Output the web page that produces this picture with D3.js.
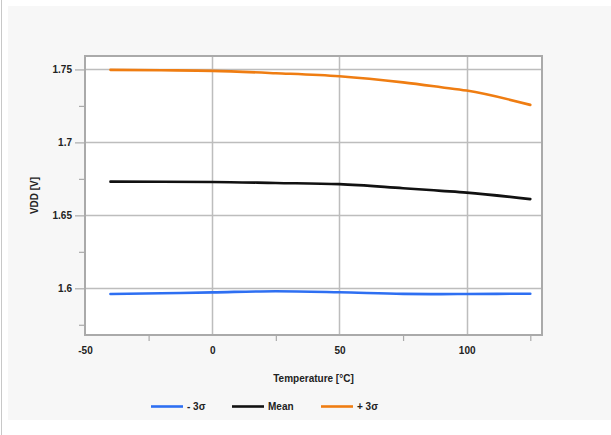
<!DOCTYPE html>
<html><head><meta charset="utf-8">
<script src="https://cdn.jsdelivr.net/npm/d3@7"></script>
<style>
html,body{margin:0;padding:0;background:#fff;}
svg{display:block;}
text{font-family:"Liberation Sans",Arial,sans-serif;font-weight:bold;fill:#222;}
</style></head>
<body>
<svg id="chart" width="611" height="435"></svg>
<script>
const temps = [-40, -20, 0, 25, 50, 75, 90, 100, 125];
const minus3s = [1.5961, 1.5966, 1.5972, 1.5980, 1.5973, 1.5962, 1.5960, 1.5961, 1.5963];
const mean    = [1.6731, 1.6730, 1.6729, 1.6722, 1.6714, 1.6686, 1.6668, 1.6656, 1.6611];
const plus3s  = [1.7497, 1.7494, 1.7490, 1.7474, 1.7453, 1.7411, 1.7378, 1.7355, 1.7257];
const seriesNames = ["- 3σ", "Mean", "+ 3σ"];
const seriesColors = ["#2e6ff2", "#111111", "#ef7d12"];
const xTicks = [-50, 0, 50, 100];
const xTickLabels = ["-50", "0", "50", "100"];
const xMinor = [-25, 25, 75, 125];
const yTicks = [1.6, 1.65, 1.7, 1.75];
const yTickLabels = ["1.6", "1.65", "1.7", "1.75"];
const yMinor = [1.575, 1.625, 1.675, 1.725];

const svg = d3.select("#chart");
// background panel
svg.append("rect").attr("x", 8).attr("y", 6).attr("width", 603).attr("height", 414).attr("fill", "#f7f7f7");
svg.append("line").attr("x1", 1.5).attr("x2", 1.5).attr("y1", 0).attr("y2", 435).attr("stroke", "#c8c8c8").attr("stroke-width", 1);

const L = 85, R = 542, T = 56, B = 335;
const x = d3.scaleLinear().domain([-50, 129.6]).range([L, R]);
const y = d3.scaleLinear().domain([1.568, 1.7592]).range([B, T]);

svg.append("rect").attr("x", L).attr("y", T).attr("width", R - L).attr("height", B - T).attr("fill", "#fff");

// grid
const g = svg.append("g");
g.selectAll(".gx").data(xTicks.filter(d => d > -50)).join("line")
  .attr("x1", d => Math.round(x(d)) + 0.5).attr("x2", d => Math.round(x(d)) + 0.5)
  .attr("y1", T).attr("y2", B).attr("stroke", "#bdbdbd").attr("stroke-width", 1.5);
g.selectAll(".gy").data(yTicks).join("line")
  .attr("x1", L).attr("x2", R)
  .attr("y1", d => Math.round(y(d)) + 0.5).attr("y2", d => Math.round(y(d)) + 0.5)
  .attr("stroke", "#bdbdbd").attr("stroke-width", 1.5);

// axes
const xAxis = svg.append("g").attr("transform", `translate(0,${B})`)
  .call(d3.axisBottom(x).tickValues(xTicks).tickSize(0).tickPadding(12).tickFormat((d, i) => xTickLabels[i]));
xAxis.select(".domain").remove();
xAxis.selectAll("text").attr("font-size", 10).style("font-family", '"Liberation Sans",Arial,sans-serif').style("font-weight", "bold").attr("fill", "#222");
svg.append("g").attr("transform", `translate(0,${B})`)
  .call(d3.axisBottom(x).tickValues(xMinor).tickSize(6).tickFormat(""))
  .call(s => s.select(".domain").remove())
  .selectAll("line").attr("stroke", "#aaa").attr("stroke-width", 1.2);

const yAxis = svg.append("g").attr("transform", `translate(${L},0)`)
  .call(d3.axisLeft(y).tickValues(yTicks).tickSize(10).tickPadding(3).tickFormat((d, i) => yTickLabels[i]));
yAxis.select(".domain").remove();
yAxis.selectAll("line").attr("stroke", "#aaa").attr("stroke-width", 1.2);
yAxis.selectAll("text").attr("font-size", 10).style("font-family", '"Liberation Sans",Arial,sans-serif').style("font-weight", "bold").attr("fill", "#222");
svg.append("g").attr("transform", `translate(${L},0)`)
  .call(d3.axisLeft(y).tickValues(yMinor).tickSize(6).tickFormat(""))
  .call(s => s.select(".domain").remove())
  .selectAll("line").attr("stroke", "#aaa").attr("stroke-width", 1.2);

// frame
svg.append("rect").attr("x", L).attr("y", T).attr("width", R - L).attr("height", B - T)
  .attr("fill", "none").attr("stroke", "#aaaaaa").attr("stroke-width", 2);

// lines
const allSeries = [minus3s, mean, plus3s];
const line = d3.line().x((d, i) => x(temps[i])).y(d => y(d)).curve(d3.curveMonotoneX);
allSeries.forEach((s, k) => {
  svg.append("path").datum(s).attr("d", line).attr("fill", "none")
    .attr("stroke", seriesColors[k]).attr("stroke-width", 2.6).attr("stroke-linecap", "round");
});

// axis titles
svg.append("text").attr("x", (L + R) / 2).attr("y", 382).attr("text-anchor", "middle").attr("font-size", 10).text("Temperature [°C]");
svg.append("text").attr("transform", `translate(38,${(T + B) / 2}) rotate(-90)`).attr("text-anchor", "middle").attr("font-size", 10).text("VDD [V]");

// legend
const legX = [151, 232, 321];
seriesNames.forEach((n, k) => {
  svg.append("line").attr("x1", legX[k]).attr("x2", legX[k] + 32).attr("y1", 406.5).attr("y2", 406.5)
    .attr("stroke", seriesColors[k]).attr("stroke-width", 2.6);
  svg.append("text").attr("x", legX[k] + 36).attr("y", 410).attr("font-size", 10).text(n);
});
</script>
</body></html>
